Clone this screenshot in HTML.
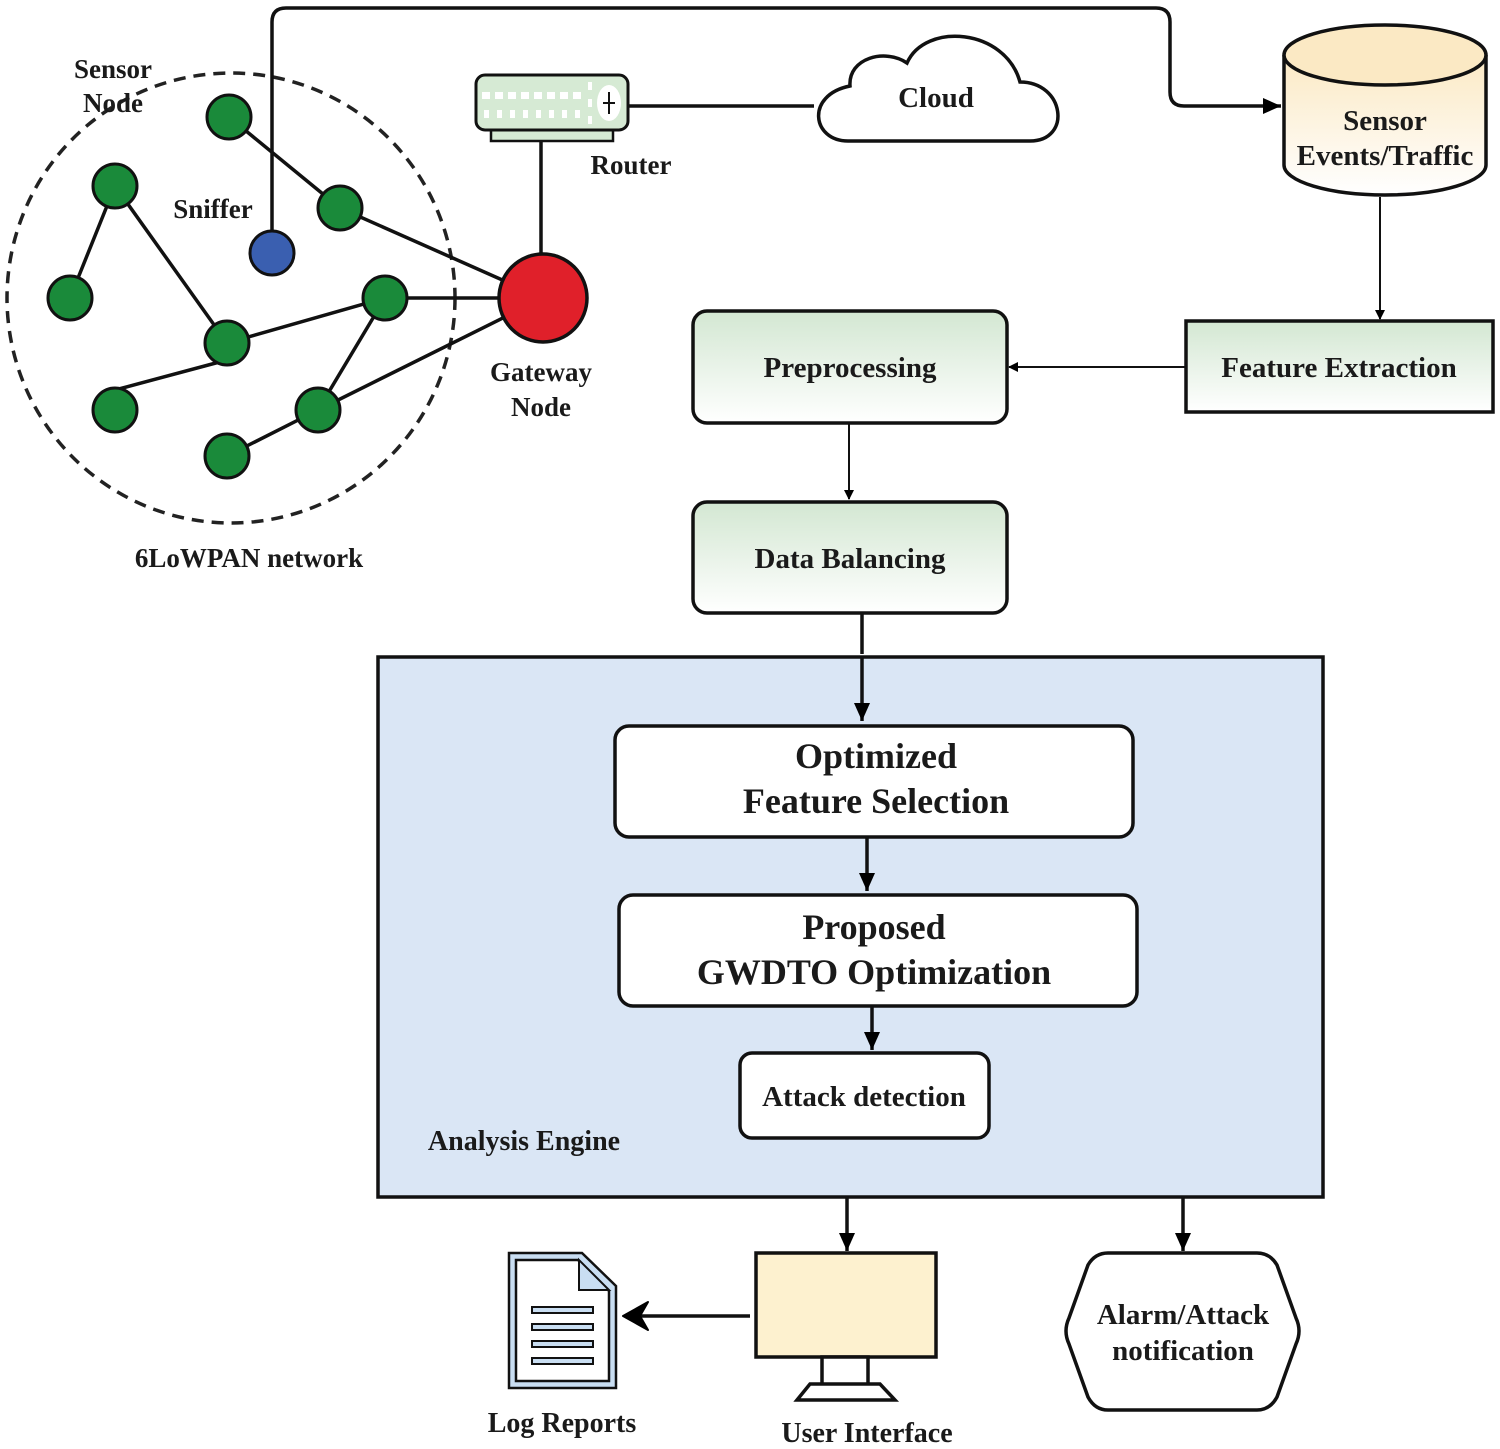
<!DOCTYPE html>
<html><head><meta charset="utf-8"><style>
html,body{margin:0;padding:0;background:#fff;}
svg{display:block;font-family:"Liberation Serif","Times New Roman",Times,serif;}
text{font-family:"Liberation Serif","Times New Roman",Times,serif;font-weight:700;fill:#1a1a1a;}
</style></head><body>
<svg width="1500" height="1449" viewBox="0 0 1500 1449" xmlns="http://www.w3.org/2000/svg" font-family="Liberation Serif, Times New Roman, serif">
<defs>
<linearGradient id="g" x1="0" y1="0" x2="0" y2="1"><stop offset="0" stop-color="#d3e7d2"/><stop offset="1" stop-color="#ffffff"/></linearGradient>
<linearGradient id="y" x1="0" y1="0" x2="0" y2="1"><stop offset="0" stop-color="#fbe9c4"/><stop offset="1" stop-color="#ffffff"/></linearGradient>
<marker id="a" markerWidth="10" markerHeight="10" refX="9" refY="5" orient="auto" markerUnits="userSpaceOnUse"><path d="M0,0 L10,5 L0,10 Z" fill="#000"/></marker>
<marker id="b" markerWidth="20" markerHeight="20" refX="18" refY="10" orient="auto" markerUnits="userSpaceOnUse"><path d="M0,2 L18,10 L0,18 Z" fill="#000"/></marker>
</defs>

<ellipse cx="231" cy="298" rx="224" ry="225" fill="none" stroke="#222" stroke-width="3.5" stroke-dasharray="12,8"/>
<g stroke="#111" stroke-width="3.5">
<line x1="229" y1="117" x2="340" y2="208"/>
<line x1="340" y1="208" x2="543" y2="298"/>
<line x1="115" y1="186" x2="70" y2="298"/>
<line x1="115" y1="186" x2="227" y2="343"/>
<line x1="227" y1="343" x2="385" y2="298"/>
<line x1="385" y1="298" x2="543" y2="298"/>
<line x1="115" y1="390" x2="227" y2="360"/>
<line x1="385" y1="298" x2="318" y2="410"/>
<line x1="227" y1="456" x2="318" y2="410"/>
<line x1="318" y1="410" x2="543" y2="298"/>
<line x1="541" y1="135" x2="541" y2="255"/>
<line x1="626" y1="106" x2="814" y2="106"/>
</g>
<g fill="#1a8a3a" stroke="#111" stroke-width="3">
<circle cx="229" cy="117" r="22"/><circle cx="115" cy="186" r="22"/><circle cx="340" cy="208" r="22"/>
<circle cx="70" cy="298" r="22"/><circle cx="385" cy="298" r="22"/><circle cx="227" cy="343" r="22"/>
<circle cx="115" cy="410" r="22"/><circle cx="318" cy="410" r="22"/><circle cx="227" cy="456" r="22"/>
</g>
<circle cx="272" cy="253" r="22" fill="#3a5fb0" stroke="#111" stroke-width="3"/>
<circle cx="543" cy="298" r="44" fill="#e0202a" stroke="#111" stroke-width="3.5"/>
<path d="M272,231 L272,22 Q272,8 286,8 L1156,8 Q1170,8 1170,22 L1170,92 Q1170,106 1184,106 L1281,106" fill="none" stroke="#111" stroke-width="3.5" marker-end="url(#b)"/>
<text x="113" y="78" font-size="27" text-anchor="middle">Sensor</text>
<text x="113" y="112" font-size="27" text-anchor="middle">Node</text>
<text x="213" y="218" font-size="27" text-anchor="middle">Sniffer</text>
<text x="541" y="381" font-size="27" text-anchor="middle">Gateway</text>
<text x="541" y="416" font-size="27" text-anchor="middle">Node</text>
<text x="249" y="567" font-size="27" text-anchor="middle">6LoWPAN network</text>

<rect x="491" y="128" width="122" height="13" fill="#d6ead4" stroke="#111" stroke-width="2.5"/>
<rect x="476" y="75" width="152" height="55" rx="9" fill="#d6ead4" stroke="#111" stroke-width="3"/>
<g fill="#fff">
<rect x="482" y="92" width="8" height="7"/><rect x="495" y="92" width="8" height="7"/><rect x="508" y="92" width="8" height="7"/><rect x="521" y="92" width="8" height="7"/><rect x="534" y="92" width="8" height="7"/><rect x="547" y="92" width="8" height="7"/><rect x="560" y="92" width="8" height="7"/><rect x="573" y="92" width="8" height="7"/>
<rect x="484" y="110" width="5" height="8"/><rect x="497" y="110" width="5" height="8"/><rect x="510" y="110" width="5" height="8"/><rect x="523" y="110" width="5" height="8"/><rect x="536" y="110" width="5" height="8"/><rect x="549" y="110" width="5" height="8"/><rect x="562" y="110" width="5" height="8"/><rect x="575" y="110" width="5" height="8"/>
<rect x="588" y="82" width="4" height="8"/><rect x="588" y="99" width="4" height="8"/><rect x="588" y="116" width="4" height="8"/>
<ellipse cx="609" cy="103" rx="12" ry="18"/>
</g>
<path d="M609,92 L609,114 M603,103 L615,103" stroke="#111" stroke-width="2"/>
<text x="631" y="174" font-size="27" text-anchor="middle">Router</text>

<path d="M848,141 C812,141 805,95 850,86 C848,58 885,48 907,63 C925,22 1005,28 1020,82 C1065,82 1072,141 1030,141 Z" fill="#fff" stroke="#111" stroke-width="3.5"/>
<text x="936" y="107" font-size="29" text-anchor="middle">Cloud</text>

<path d="M1284,55 L1284,165 A101,30 0 0 0 1486,165 L1486,55" fill="url(#y)" stroke="#111" stroke-width="3.5"/>
<ellipse cx="1385" cy="55" rx="101" ry="30" fill="#fbe9c4" stroke="#111" stroke-width="3.5"/>
<text x="1385" y="130" font-size="29" text-anchor="middle">Sensor</text>
<text x="1385" y="165" font-size="29" text-anchor="middle">Events/Traffic</text>
<line x1="1380" y1="197" x2="1380" y2="319" stroke="#111" stroke-width="2" marker-end="url(#a)"/>

<rect x="1186" y="321" width="307" height="91" fill="url(#g)" stroke="#111" stroke-width="3.5"/>
<text x="1339" y="377" font-size="29" text-anchor="middle">Feature Extraction</text>
<line x1="1186" y1="367" x2="1009" y2="367" stroke="#111" stroke-width="2" marker-end="url(#a)"/>

<rect x="693" y="311" width="314" height="112" rx="14" fill="url(#g)" stroke="#111" stroke-width="3.5"/>
<text x="850" y="377" font-size="29" text-anchor="middle">Preprocessing</text>
<line x1="849" y1="423" x2="849" y2="499" stroke="#111" stroke-width="2" marker-end="url(#a)"/>
<rect x="693" y="502" width="314" height="111" rx="14" fill="url(#g)" stroke="#111" stroke-width="3.5"/>
<text x="850" y="568" font-size="29" text-anchor="middle">Data Balancing</text>
<line x1="862" y1="613" x2="862" y2="654" stroke="#111" stroke-width="3.5"/>

<rect x="378" y="657" width="945" height="540" fill="#dae6f5" stroke="#111" stroke-width="3.5"/>
<line x1="862" y1="657" x2="862" y2="721" stroke="#111" stroke-width="3.5" marker-end="url(#b)"/>
<rect x="615" y="726" width="518" height="111" rx="14" fill="#fff" stroke="#111" stroke-width="3.5"/>
<text x="876" y="768" font-size="36" text-anchor="middle">Optimized</text>
<text x="876" y="813" font-size="36" text-anchor="middle">Feature Selection</text>
<line x1="867" y1="837" x2="867" y2="891" stroke="#111" stroke-width="3.5" marker-end="url(#b)"/>
<rect x="619" y="895" width="518" height="111" rx="14" fill="#fff" stroke="#111" stroke-width="3.5"/>
<text x="874" y="939" font-size="36" text-anchor="middle">Proposed</text>
<text x="874" y="984" font-size="36" text-anchor="middle">GWDTO Optimization</text>
<line x1="872" y1="1006" x2="872" y2="1050" stroke="#111" stroke-width="3.5" marker-end="url(#b)"/>
<rect x="740" y="1053" width="249" height="85" rx="12" fill="#fff" stroke="#111" stroke-width="3.5"/>
<text x="864" y="1106" font-size="29" text-anchor="middle">Attack detection</text>
<text x="524" y="1150" font-size="28" text-anchor="middle">Analysis Engine</text>

<line x1="847" y1="1197" x2="847" y2="1251" stroke="#111" stroke-width="3.5" marker-end="url(#b)"/>
<line x1="1183" y1="1197" x2="1183" y2="1251" stroke="#111" stroke-width="3.5" marker-end="url(#b)"/>

<rect x="756" y="1253" width="180" height="104" fill="#fdf1cf" stroke="#111" stroke-width="3.5"/>
<rect x="822" y="1357" width="46" height="32" fill="#fff" stroke="#111" stroke-width="3.5"/>
<path d="M810,1384 L880,1384 L895,1400 L797,1400 Z" fill="#fff" stroke="#111" stroke-width="3.5"/>
<text x="867" y="1442" font-size="28" text-anchor="middle">User Interface</text>
<line x1="750" y1="1316" x2="640" y2="1316" stroke="#111" stroke-width="3.5"/>
<path d="M623,1316 L648,1302 L640,1316 L648,1330 Z" fill="#000" stroke="#000" stroke-width="2" stroke-linejoin="round"/>

<path d="M509,1253 L582,1253 L616,1286 L616,1388 L509,1388 Z" fill="#c9def2" stroke="#111" stroke-width="2.5"/>
<path d="M516,1260 L578,1260 L609,1291 L609,1381 L516,1381 Z" fill="#fff" stroke="#111" stroke-width="2.5"/>
<path d="M579,1260 L579,1290 L609,1290 Z" fill="#c9def2" stroke="#111" stroke-width="2"/>
<g fill="#c9def2" stroke="#111" stroke-width="2">
<rect x="532" y="1307" width="61" height="6"/><rect x="532" y="1324" width="61" height="6"/>
<rect x="532" y="1341" width="61" height="6"/><rect x="532" y="1358" width="61" height="6"/>
</g>
<text x="562" y="1432" font-size="28" text-anchor="middle">Log Reports</text>

<path d="M1108,1253 L1257,1253 Q1270,1253 1277,1265 L1296,1318 Q1302,1331 1296,1344 L1277,1397 Q1270,1410 1257,1410 L1108,1410 Q1095,1410 1088,1397 L1069,1344 Q1063,1331 1069,1318 L1088,1265 Q1095,1253 1108,1253 Z" fill="#fff" stroke="#111" stroke-width="3.5"/>
<text x="1183" y="1324" font-size="29" text-anchor="middle">Alarm/Attack</text>
<text x="1183" y="1360" font-size="29" text-anchor="middle">notification</text>
</svg>
</body></html>
